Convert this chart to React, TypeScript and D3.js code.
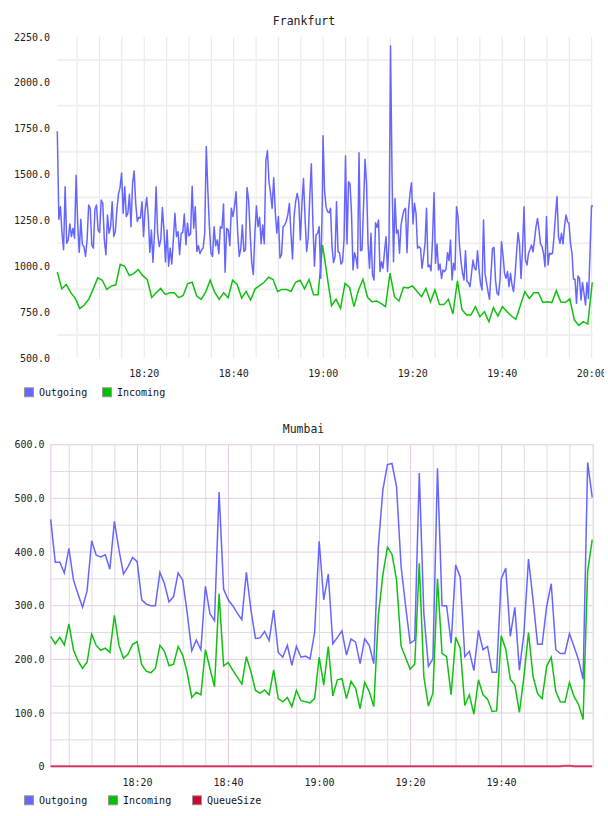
import * as d3 from 'd3';

// Frankfurt outgoing is sampled roughly every 20s, incoming once a minute
const frankfurtOutgoing = [
  1736, 1256, 1325, 1180, 1090, 1433, 1126, 1144, 1231, 1162,
  1207, 1153, 1496, 1235, 1076, 1256, 1117, 1108, 1054, 1144,
  1334, 1316, 1117, 1099, 1310, 1334, 1198, 1184, 1361, 1343,
  1144, 1063, 1280, 1180, 1216, 1352, 1162, 1189, 1307, 1393,
  1429, 1509, 1289, 1433, 1271, 1289, 1393, 1216, 1451, 1520,
  1343, 1244, 1267, 1262, 1352, 1162, 1307, 1375, 1271, 1076,
  1198, 1022, 1180, 1433, 1180, 1108, 1144, 1321, 1198, 1023,
  1198, 1000, 1099, 1013, 1144, 1289, 1162, 1189, 1063, 1180,
  1184, 1285, 1117, 1235, 1166, 1177, 1437, 1207, 1325, 1081,
  1112, 1069, 1090, 1099, 1180, 1653, 1415, 1216, 1072, 1054,
  1216, 1112, 1144, 1069, 1216, 1207, 1339, 968, 1207, 1198,
  1112, 1316, 1271, 1325, 1406, 1189, 1054, 1094, 1225, 1081,
  1090, 1429, 1361, 1180, 1018, 955, 1180, 1328, 1216, 1267,
  1123, 1225, 1123, 1574, 1631, 1460, 1397, 1316, 1483, 1298,
  1180, 1271, 1045, 1063, 1216, 1225, 1244, 1280, 1343, 1180,
  1040, 1271, 1352, 1397, 1352, 1144, 1339, 1478, 1262, 1081,
  1153, 1379, 1559, 1235, 1000, 1171, 1180, 1216, 935, 1361,
  1712, 1416, 1325, 1298, 1292, 1316, 1107, 1020, 1052, 1352,
  1079, 1074, 1012, 1025, 1143, 1601, 1122, 1461, 1449, 1289,
  980, 1074, 1043, 989, 1619, 1085, 1089, 1325, 1583, 1452,
  1125, 989, 1180, 952, 925, 1238, 1212, 1252, 971, 1025,
  989, 1079, 1161, 971, 1134, 2201, 1507, 1025, 1370, 1180,
  1198, 1071, 1225, 1271, 1307, 1316, 1074, 1307, 1398, 1456,
  1231, 1343, 1289, 1098, 1107, 1098, 989, 1052, 1122, 1316,
  998, 1007, 976, 1143, 1401, 1016, 1122, 980, 1012, 934,
  980, 971, 983, 1074, 1031, 1143, 925, 1016, 980, 1325,
  1271, 1116, 1025, 962, 925, 1085, 916, 911, 889, 962,
  1034, 989, 980, 1085, 980, 907, 871, 1252, 962, 911,
  862, 820, 962, 1098, 1103, 925, 853, 844, 925, 1134,
  1061, 962, 934, 971, 889, 962, 898, 862, 947, 1071,
  1183, 1122, 934, 1089, 1325, 1034, 1007, 1071, 1092, 1116,
  1079, 1143, 1216, 1261, 1198, 1122, 1107, 1071, 998, 1271,
  1007, 1071, 1067, 1071, 1161, 1280, 1380, 1161, 1125, 1180,
  1122, 1216, 1280, 1243, 1234, 1125, 1071, 929, 929, 798,
  947, 934, 816, 911, 853, 789, 911, 825, 1071, 1329,
  1329,
];

const frankfurtIncoming = [
  969, 877, 901, 856, 825, 769, 789, 820, 877, 937,
  924, 874, 892, 899, 1011, 1000, 949, 960, 982, 949,
  928, 830, 856, 879, 847, 856, 856, 829, 841, 906,
  913, 838, 820, 859, 924, 859, 820, 856, 829, 924,
  901, 827, 863, 816, 877, 895, 913, 940, 928, 863,
  874, 874, 863, 913, 924, 877, 928, 845, 845,
  1116, 951, 785, 820, 771, 907, 885, 780, 871, 929,
  831, 807, 811, 798, 780, 962, 834, 811, 885, 882,
  893, 864, 834, 880, 805, 871, 791, 791, 820, 740,
  920, 765, 734, 734, 780, 725, 753, 698, 774, 729,
  780, 753, 729, 711, 786, 862, 825, 856, 856, 803,
  807, 802, 867, 805, 803, 823, 707, 678, 698, 685, 912,
];

// Mumbai series, one sample per minute
const mumbaiOutgoing = [
  461, 381, 381, 361, 407, 348, 322, 297, 328, 421,
  394, 391, 395, 368, 457, 404, 359, 373, 390, 382,
  311, 303, 300, 300, 362, 341, 307, 317, 361, 348,
  286, 216, 236, 218, 336, 285, 272, 512, 331, 311,
  300, 286, 274, 362, 292, 239, 240, 252, 235, 292,
  213, 204, 226, 189, 224, 204, 206, 201, 250, 420,
  311, 359, 229, 241, 253, 208, 238, 232, 192, 238,
  226, 192, 410, 516, 563, 565, 522, 373, 299, 230,
  236, 547, 286, 187, 201, 556, 300, 300, 230, 376,
  353, 205, 215, 179, 254, 218, 224, 176, 176, 350,
  370, 243, 297, 180, 249, 387, 311, 228, 228, 299,
  341, 218, 211, 211, 248, 224, 199, 163, 567, 502,
];

const mumbaiIncoming = [
  243, 229, 241, 227, 266, 218, 197, 183, 195, 247,
  226, 217, 221, 213, 282, 226, 202, 210, 228, 233,
  190, 178, 175, 183, 226, 215, 188, 191, 224, 208,
  175, 129, 139, 134, 218, 183, 149, 322, 188, 194,
  180, 167, 154, 205, 177, 142, 137, 143, 134, 180,
  127, 121, 129, 112, 142, 123, 121, 119, 127, 204,
  152, 224, 132, 162, 164, 127, 159, 146, 108, 157,
  140, 112, 280, 358, 409, 396, 348, 225, 203, 182,
  191, 379, 168, 113, 137, 350, 211, 205, 134, 241,
  221, 114, 134, 98, 162, 134, 126, 103, 104, 244,
  219, 163, 152, 101, 168, 250, 168, 136, 127, 187,
  204, 140, 121, 120, 157, 131, 116, 88, 364, 423,
];

const mumbaiQueueSize = [
  1, 1, 1, 1, 1, 1, 1, 1, 1, 1,
  1, 1, 1, 1, 1, 1, 1, 1, 1, 1,
  1, 1, 1, 1, 1, 1, 1, 1, 1, 1,
  1, 1, 1, 1, 1, 1, 1, 1, 1, 1,
  1, 1, 1, 1, 1, 1, 1, 1, 1, 1,
  1, 1, 1, 1, 1, 1, 1, 1, 1, 1,
  1, 1, 1, 1, 1, 1, 1, 1, 1, 1,
  1, 1, 1, 1, 1, 1, 1, 1, 1, 1,
  1, 1, 1, 1, 1, 1, 1, 1, 1, 1,
  1, 1, 1, 1, 1, 1, 1, 1, 1, 1,
  1, 1, 1, 1, 1, 1, 1, 1, 1, 1,
  1, 1, 1, 2, 2, 1, 1, 1, 1, 1,
];

const timeLabels = ['18:20', '18:40', '19:00', '19:20', '19:40', '20:00'];
const frankfurtTicks = [500, 750, 1000, 1250, 1500, 1750, 2000, 2250];
const mumbaiTicks = [0, 100, 200, 300, 400, 500, 600];

const BLUE = '#6666ff';
const GREEN = '#11c011';
const RED = '#cc0033';
const MONO = '"DejaVu Sans Mono", monospace';

const base = new Date(2011, 4, 12, 18, 0, 0).getTime();
const at = (min: number) => new Date(base + min * 60000);
const parseLabel = (s: string) => {
  const [h, m] = s.split(':').map(Number);
  return at((h - 18) * 60 + m);
};

// evenly spaced sample times between two minute offsets
const spread = (n: number, from: number, to: number) =>
  d3.range(n).map(i => at(from + ((to - from) * i) / (n - 1)));

const outgoingTimes = [...spread(170, 0.58, 59.8), ...spread(181, 59.96, 120.29)];
const incomingTimes = spread(frankfurtIncoming.length, 0.58, 120.13);
const mumbaiTimes = spread(mumbaiOutgoing.length, 0.92, 119.92);

const fiveMinutes = (from: number, to: number) => d3.range(from, to + 1, 5).map(at);

interface Item { label: string; color: string; }

function Legend({ y, items }: { y: number; items: Item[] }) {
  const longest = d3.max(items, d => d.label.length) || 0;
  const step = longest * 6 + 30;
  return (
    <g>
      {items.map((it, i) => (
        <g key={it.label} transform={`translate(${24.5 + i * step},${y})`}>
          <rect x={0} y={-4.5} width={9} height={9} fill={it.color} stroke="#999" />
          <text x={14.5} y={4} fontFamily={MONO} fontSize={10} fill="#111">{it.label}</text>
        </g>
      ))}
    </g>
  );
}

function Frankfurt() {
  const left = 57.3, right = 593, top = 37, bottom = 358;
  const x = d3.scaleTime().domain([at(0.58), at(120.29)]).range([left, right]);
  const y = d3.scaleLinear().domain([500, 2250]).range([bottom, top]);
  const out = d3.line<number>().x((_, i) => x(outgoingTimes[i])).y(d => y(d));
  const inc = d3.line<number>().x((_, i) => x(incomingTimes[i])).y(d => y(d));
  const midGrid = d3.pairs(frankfurtTicks).map(([a, b]) => (a + b) / 2);

  return (
    <g clipPath="url(#frank-clip)">
      <text x={304} y={24.5} textAnchor="middle" fontFamily={MONO} fontSize={11.5} fill="#222">Frankfurt</text>
      {fiveMinutes(5, 120).map(t => (
        <line key={+t} x1={x(t)} x2={x(t)} y1={top} y2={bottom} stroke="#e6e6e6" />
      ))}
      {midGrid.map(v => (
        <line key={v} x1={left} x2={right} y1={y(v)} y2={y(v)} stroke="#f0f0f0" strokeWidth={2} />
      ))}
      {frankfurtTicks.map(v => (
        <text key={v} x={50} y={y(v)} dy="0.35em" textAnchor="end" fontFamily={MONO} fontSize={10} fill="#222">
          {v.toFixed(1)}
        </text>
      ))}
      {timeLabels.map(s => (
        <text key={s} x={x(parseLabel(s))} y={377} textAnchor="middle" fontFamily={MONO} fontSize={10} fill="#222">{s}</text>
      ))}
      <path d={inc(frankfurtIncoming) || ''} fill="none" stroke={GREEN} strokeWidth={1.5} />
      <path d={out(frankfurtOutgoing) || ''} fill="none" stroke={BLUE} strokeWidth={1.5} strokeLinejoin="round" />
      <Legend y={392.3} items={[{ label: 'Outgoing', color: BLUE }, { label: 'Incoming', color: '#00c000' }]} />
    </g>
  );
}

function Mumbai() {
  const left = 50.7, right = 593.3, top = 444.7, bottom = 766.7;
  const x = d3.scaleTime().domain([mumbaiTimes[0], mumbaiTimes[mumbaiTimes.length - 1]]).range([left, 592.2]);
  const y = d3.scaleLinear().domain([0, 600]).range([bottom, top]);
  const line = d3.line<number>().x((_, i) => x(mumbaiTimes[i])).y(d => y(d));
  const major = '#e4cce4';
  const minor = '#dedede';

  return (
    <g>
      <text x={303.5} y={433} textAnchor="middle" fontFamily={MONO} fontSize={11.5} fill="#222">Mumbai</text>
      {fiveMinutes(5, 115).map(t => (
        <line key={+t} x1={x(t)} x2={x(t)} y1={top} y2={bottom}
          stroke={t.getMinutes() % 20 === 0 ? major : minor} />
      ))}
      {d3.range(50, 600, 50).map(v => (
        <line key={v} x1={left} x2={right} y1={y(v)} y2={y(v)} stroke={v % 100 === 0 ? major : minor} />
      ))}
      <rect x={left} y={top} width={right - left} height={bottom - top} fill="none" stroke="#ead8ea" strokeWidth={1.5} />
      {mumbaiTicks.map(v => (
        <text key={v} x={44.5} y={y(v)} dy="0.35em" textAnchor="end" fontFamily={MONO} fontSize={10} fill="#222">
          {v === 0 ? '0' : v.toFixed(1)}
        </text>
      ))}
      {timeLabels.slice(0, 5).map(s => (
        <text key={s} x={x(parseLabel(s))} y={785.5} textAnchor="middle" fontFamily={MONO} fontSize={10} fill="#222">{s}</text>
      ))}
      <path d={line(mumbaiIncoming) || ''} fill="none" stroke={GREEN} strokeWidth={1.5} />
      <path d={line(mumbaiOutgoing) || ''} fill="none" stroke={BLUE} strokeWidth={1.5} />
      <path d={line(mumbaiQueueSize) || ''} fill="none" stroke={RED} strokeOpacity={0.75} strokeWidth={2} />
      <Legend y={800.3} items={[
        { label: 'Outgoing', color: BLUE },
        { label: 'Incoming', color: '#00c000' },
        { label: 'QueueSize', color: RED },
      ]} />
    </g>
  );
}

export default function App() {
  return (
    <svg width={608} height={816} style={{ position: 'absolute', left: 0, top: 0, background: '#fff' }}>
      <defs>
        <clipPath id="frank-clip">
          <rect x={0} y={0} width={604} height={410} />
        </clipPath>
      </defs>
      <Frankfurt />
      <Mumbai />
    </svg>
  );
}
